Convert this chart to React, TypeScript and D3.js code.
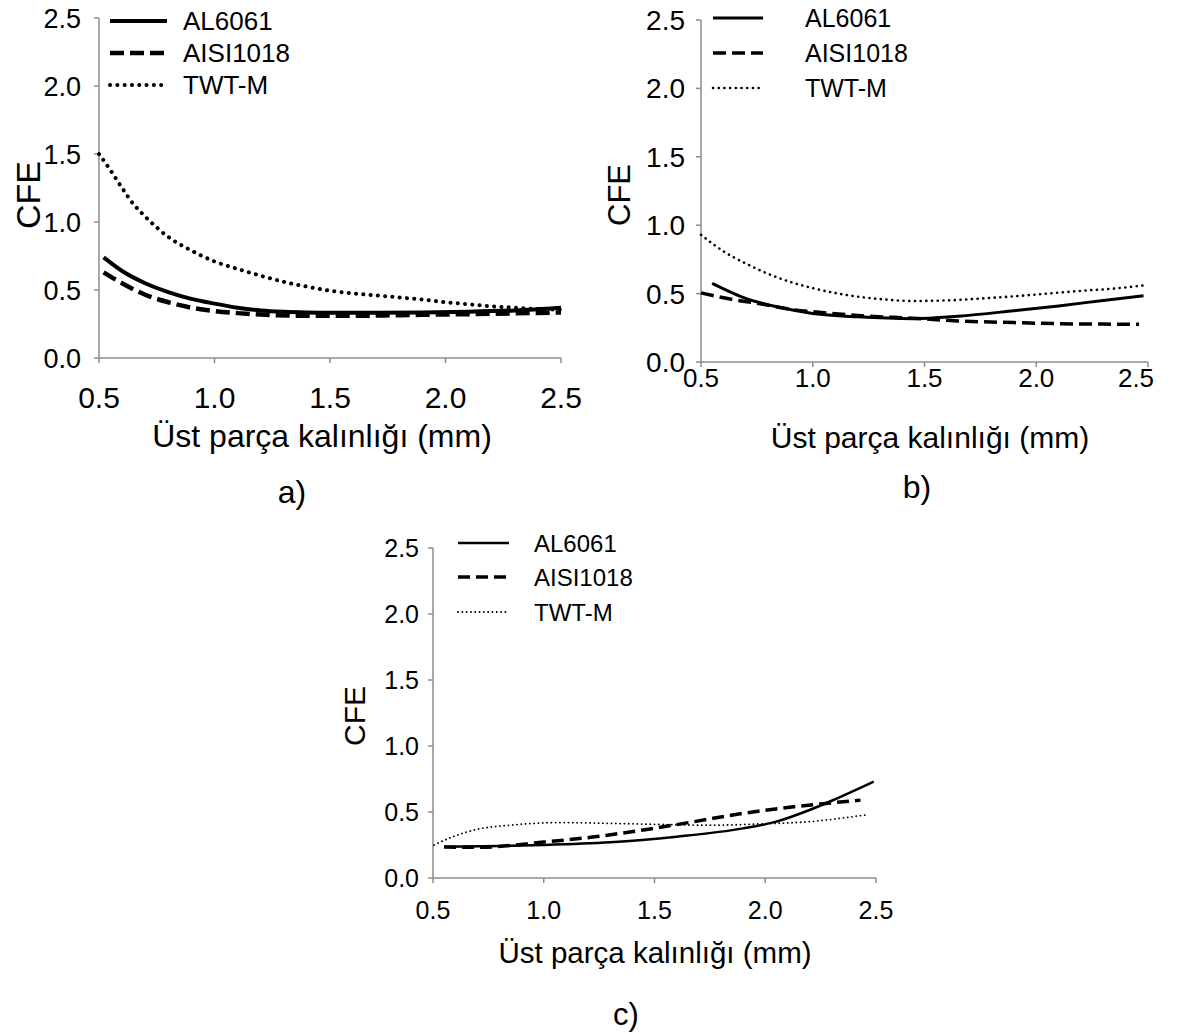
import React from "react";
import * as d3 from "d3";

// ---------- DATA ----------
const xTicks = [0.5, 1.0, 1.5, 2.0, 2.5];
const yTicks = [0.0, 0.5, 1.0, 1.5, 2.0, 2.5];
const seriesNames = ["AL6061", "AISI1018", "TWT-M"];
const xTitle = "Üst parça kalınlığı (mm)";
const yTitle = "CFE";
const panelLabels = ["a)", "b)", "c)"];

type P = [number, number];

const aAL6061: P[] = [[0.52,0.74],[0.6,0.64],[0.7,0.55],[0.8,0.485],[0.9,0.435],[1.0,0.40],[1.1,0.37],[1.2,0.35],[1.3,0.34],[1.4,0.335],[1.5,0.333],[1.7,0.333],[1.9,0.335],[2.1,0.34],[2.3,0.35],[2.5,0.37]];
const aAISI1018: P[] = [[0.52,0.63],[0.6,0.55],[0.7,0.465],[0.8,0.41],[0.9,0.37],[1.0,0.345],[1.1,0.33],[1.2,0.32],[1.4,0.31],[1.6,0.31],[1.8,0.315],[2.0,0.32],[2.2,0.325],[2.5,0.335]];
const aTWTM: P[] = [[0.5,1.50],[0.55,1.38],[0.6,1.25],[0.65,1.13],[0.7,1.04],[0.8,0.89],[0.9,0.79],[1.0,0.71],[1.1,0.655],[1.2,0.605],[1.3,0.56],[1.4,0.525],[1.5,0.495],[1.6,0.475],[1.7,0.46],[1.8,0.445],[1.9,0.43],[2.0,0.41],[2.1,0.395],[2.2,0.38],[2.3,0.37],[2.4,0.36],[2.5,0.355]];

const bAL6061: P[] = [[0.55,0.575],[0.7,0.465],[0.85,0.40],[1.0,0.355],[1.2,0.33],[1.45,0.317],[1.65,0.335],[1.9,0.375],[2.1,0.41],[2.3,0.45],[2.48,0.485]];
const bAISI1018: P[] = [[0.5,0.505],[0.63,0.46],[0.75,0.43],[0.9,0.385],[1.05,0.36],[1.25,0.335],[1.45,0.32],[1.65,0.30],[1.9,0.288],[2.1,0.28],[2.3,0.277],[2.46,0.276]];
const bTWTM: P[] = [[0.5,0.93],[0.6,0.81],[0.7,0.72],[0.8,0.645],[0.9,0.585],[1.0,0.54],[1.15,0.49],[1.3,0.46],[1.45,0.446],[1.6,0.45],[1.75,0.464],[1.9,0.48],[2.05,0.50],[2.2,0.52],[2.35,0.537],[2.48,0.56]];

const cAL6061: P[] = [[0.55,0.237],[0.8,0.243],[1.0,0.25],[1.3,0.27],[1.6,0.313],[1.9,0.376],[2.05,0.427],[2.2,0.515],[2.32,0.60],[2.49,0.73]];
const cAISI1018: P[] = [[0.55,0.235],[0.7,0.232],[1.0,0.272],[1.22,0.31],[1.45,0.364],[1.68,0.427],[1.9,0.49],[2.13,0.54],[2.28,0.566],[2.43,0.59]];
const cTWTM: P[] = [[0.505,0.25],[0.59,0.313],[0.7,0.369],[0.85,0.40],[1.07,0.42],[1.3,0.414],[1.52,0.406],[1.75,0.40],[1.98,0.41],[2.2,0.427],[2.45,0.477]];

// ---------- LAYOUT / STYLE ----------
const FONT = "'Liberation Sans', Arial, Helvetica, sans-serif";
const AXIS_COLOR = "#8c8c8c";

type LineStyle = { w: number; dash: string; cap: "round" | "butt" };

type PanelCfg = {
  x0: number; x1: number; y0: number; y1: number;
  yFont: number; yLabelRight: number;
  xFont: number; xLabelBase: number; xLabelMin: number; xLabelMax: number;
  titleFont: number; titleX: number; titleBase: number;
  cfeX: number; cfeY: number; cfeFont: number;
  labX: number; labBase: number; labFont: number;
  legLineX0: number; legLineX1: number; legTextX: number; legRows: number[]; legFont: number;
  styles: LineStyle[];
  data: P[][];
};

const panels: PanelCfg[] = [
  {
    x0: 99, x1: 561, y0: 358, y1: 18,
    yFont: 27, yLabelRight: 81,
    xFont: 30, xLabelBase: 408, xLabelMin: -1e9, xLabelMax: 1e9,
    titleFont: 32, titleX: 322, titleBase: 447,
    cfeX: 40, cfeY: 195, cfeFont: 34,
    labX: 292, labBase: 503, labFont: 32,
    legLineX0: 110, legLineX1: 167, legTextX: 183, legRows: [21, 53, 85], legFont: 26,
    styles: [
      { w: 4, dash: "", cap: "butt" },
      { w: 4.5, dash: "14 6", cap: "butt" },
      { w: 4, dash: "0.1 7.2", cap: "round" },
    ],
    data: [aAL6061, aAISI1018, aTWTM],
  },
  {
    x0: 701, x1: 1148, y0: 362, y1: 20,
    yFont: 28, yLabelRight: 685,
    xFont: 26, xLabelBase: 387, xLabelMin: 692, xLabelMax: 1136,
    titleFont: 30, titleX: 930, titleBase: 448,
    cfeX: 630, cfeY: 195, cfeFont: 31,
    labX: 917, labBase: 498, labFont: 32,
    legLineX0: 713, legLineX1: 763, legTextX: 805, legRows: [18, 53, 88], legFont: 25,
    styles: [
      { w: 3, dash: "", cap: "butt" },
      { w: 3.5, dash: "13 6", cap: "butt" },
      { w: 2.6, dash: "0.1 5.6", cap: "round" },
    ],
    data: [bAL6061, bAISI1018, bTWTM],
  },
  {
    x0: 433, x1: 876, y0: 878, y1: 548,
    yFont: 25, yLabelRight: 419,
    xFont: 25, xLabelBase: 919, xLabelMin: -1e9, xLabelMax: 1e9,
    titleFont: 29.5, titleX: 655, titleBase: 963,
    cfeX: 365, cfeY: 716, cfeFont: 30,
    labX: 626, labBase: 1025, labFont: 31,
    legLineX0: 458, legLineX1: 509, legTextX: 534, legRows: [543, 577, 612], legFont: 24,
    styles: [
      { w: 2.5, dash: "", cap: "butt" },
      { w: 3.5, dash: "12 6", cap: "butt" },
      { w: 1.8, dash: "0.1 4.2", cap: "round" },
    ],
    data: [cAL6061, cAISI1018, cTWTM],
  },
];

function Panel({ cfg, label }: { cfg: PanelCfg; label: string }) {
  const x = d3.scaleLinear().domain([0.5, 2.5]).range([cfg.x0, cfg.x1]);
  const y = d3.scaleLinear().domain([0, 2.5]).range([cfg.y0, cfg.y1]);
  const line = d3
    .line<P>()
    .x((d) => x(d[0]))
    .y((d) => y(d[1]))
    .curve(d3.curveMonotoneX);

  return (
    <g>
      {/* axes */}
      <line x1={cfg.x0} x2={cfg.x0} y1={y(2.5)} y2={cfg.y0} stroke={AXIS_COLOR} strokeWidth={1.5} />
      <line x1={cfg.x0} x2={cfg.x1} y1={cfg.y0} y2={cfg.y0} stroke={AXIS_COLOR} strokeWidth={1.5} />
      {yTicks.map((t) => (
        <g key={"y" + t}>
          <line x1={cfg.x0 - 5} x2={cfg.x0} y1={y(t)} y2={y(t)} stroke={AXIS_COLOR} strokeWidth={1.5} />
          <text
            x={cfg.yLabelRight}
            y={y(t)}
            dy="0.36em"
            textAnchor="end"
            fontSize={cfg.yFont}
            fontFamily={FONT}
            fill="#000"
          >
            {d3.format(".1f")(t)}
          </text>
        </g>
      ))}
      {xTicks.map((t) => (
        <g key={"x" + t}>
          <line x1={x(t)} x2={x(t)} y1={cfg.y0} y2={cfg.y0 + 5} stroke={AXIS_COLOR} strokeWidth={1.5} />
          <text
            x={Math.max(cfg.xLabelMin, Math.min(cfg.xLabelMax, x(t)))}
            y={cfg.xLabelBase}
            textAnchor="middle"
            fontSize={cfg.xFont}
            fontFamily={FONT}
            fill="#000"
          >
            {d3.format(".1f")(t)}
          </text>
        </g>
      ))}
      <text
        x={cfg.titleX}
        y={cfg.titleBase}
        textAnchor="middle"
        fontSize={cfg.titleFont}
        fontFamily={FONT}
        fill="#000"
      >
        {xTitle}
      </text>
      <text
        transform={`translate(${cfg.cfeX},${cfg.cfeY}) rotate(-90)`}
        textAnchor="middle"
        fontSize={cfg.cfeFont}
        fontFamily={FONT}
        fill="#000"
      >
        {yTitle}
      </text>
      <text
        x={cfg.labX}
        y={cfg.labBase}
        textAnchor="middle"
        fontSize={cfg.labFont}
        fontFamily={FONT}
        fill="#000"
      >
        {label}
      </text>

      {/* series */}
      {cfg.data.map((d, i) => (
        <path
          key={"s" + i}
          d={line(d) || ""}
          fill="none"
          stroke="#000"
          strokeWidth={cfg.styles[i].w}
          strokeDasharray={cfg.styles[i].dash || undefined}
          strokeLinecap={cfg.styles[i].cap}
          strokeLinejoin="round"
        />
      ))}

      {/* legend */}
      {seriesNames.map((n, i) => (
        <g key={"l" + i}>
          <line
            x1={cfg.legLineX0}
            x2={cfg.legLineX1}
            y1={cfg.legRows[i]}
            y2={cfg.legRows[i]}
            stroke="#000"
            strokeWidth={cfg.styles[i].w}
            strokeDasharray={cfg.styles[i].dash || undefined}
            strokeLinecap={cfg.styles[i].cap}
          />
          <text
            x={cfg.legTextX}
            y={cfg.legRows[i]}
            dy="0.36em"
            fontSize={cfg.legFont}
            fontFamily={FONT}
            fill="#000"
          >
            {n}
          </text>
        </g>
      ))}
    </g>
  );
}

export default function App() {
  return (
    <svg
      width={1181}
      height={1034}
      viewBox="0 0 1181 1034"
      style={{ position: "absolute", left: 0, top: 0, background: "#fff", display: "block" }}
    >
      <rect x={0} y={0} width={1181} height={1034} fill="#fff" />
      {panels.map((p, i) => (
        <Panel key={i} cfg={p} label={panelLabels[i]} />
      ))}
    </svg>
  );
}
